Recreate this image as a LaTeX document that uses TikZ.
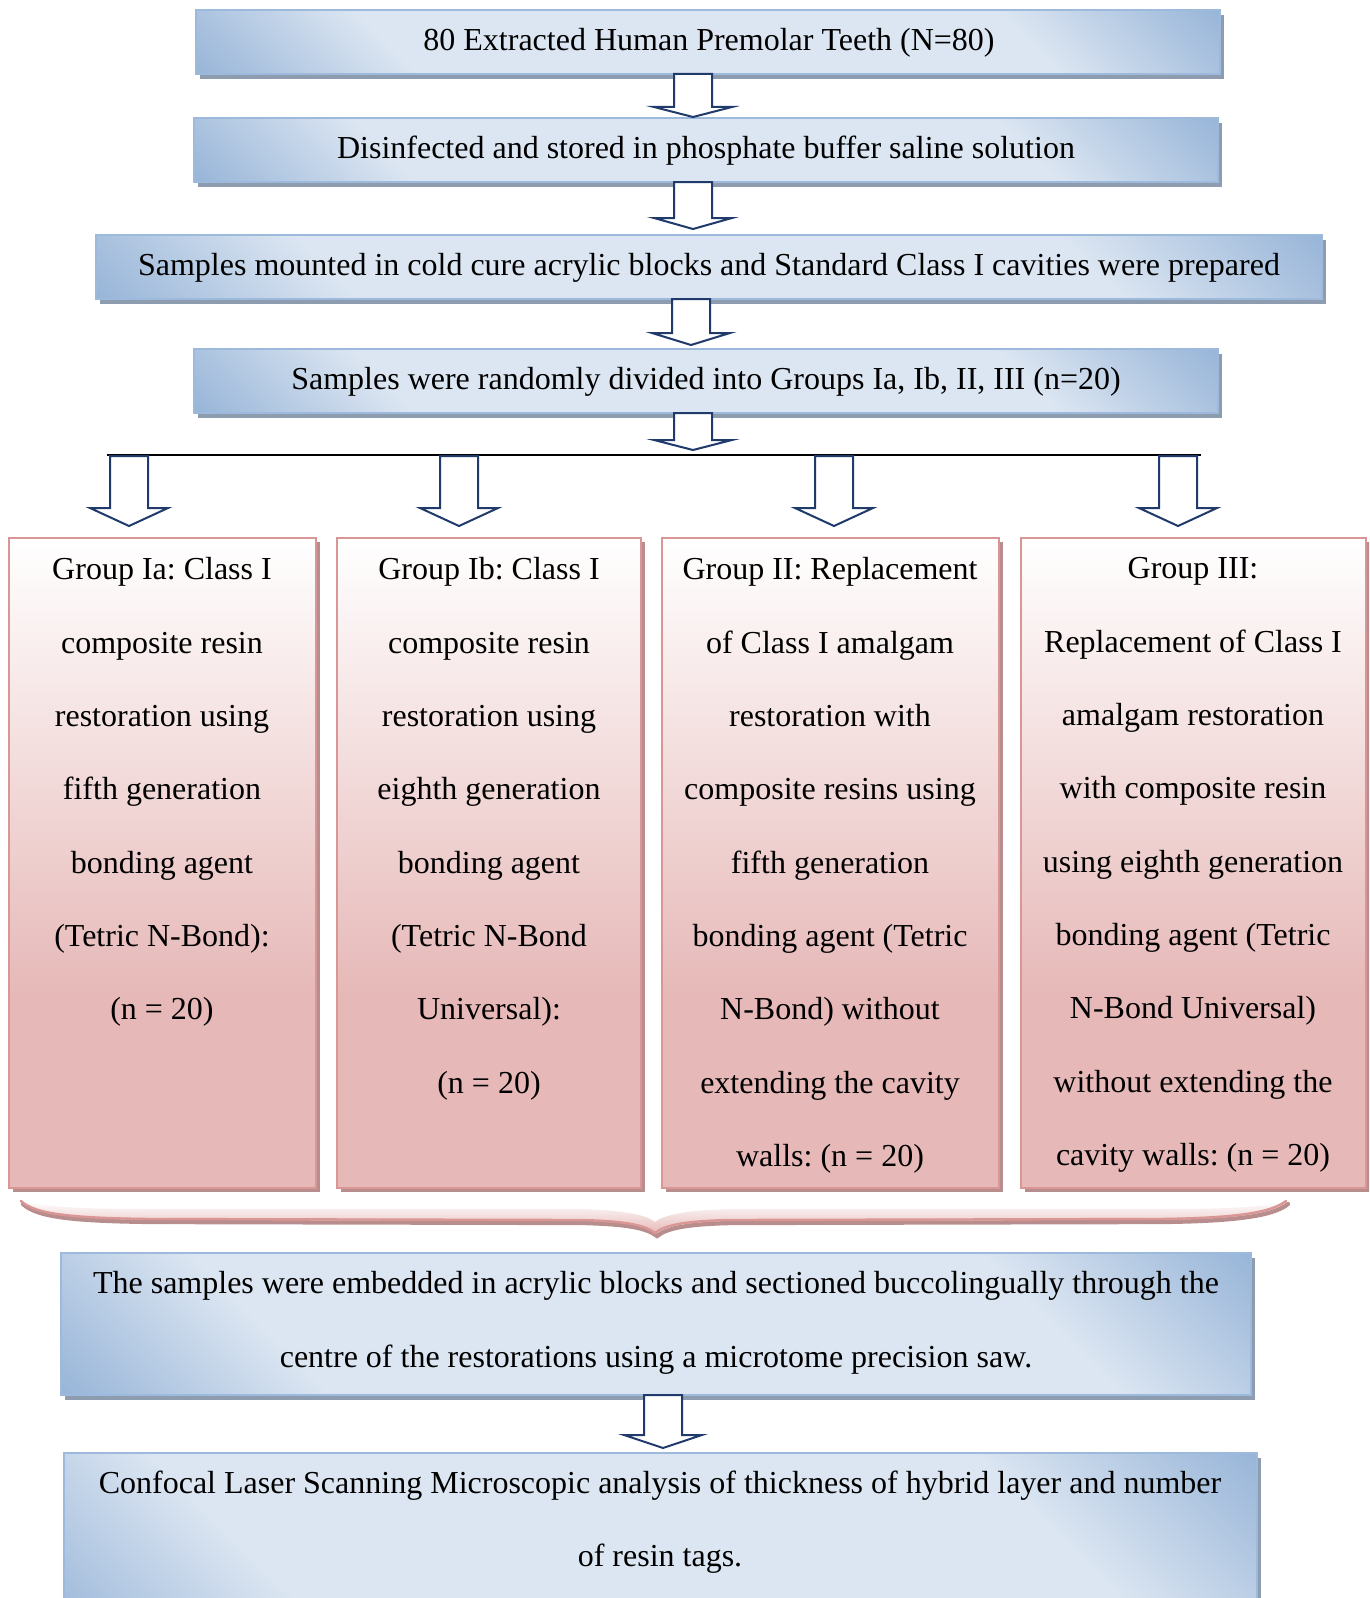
\documentclass[tikz,border=0pt]{standalone}
\usepackage{fontspec}
\setmainfont{Liberation Serif}
\usetikzlibrary{shadows,fit,calc}
\frenchspacing

\definecolor{bdark}{HTML}{95B3D7}
\definecolor{blight}{HTML}{DCE6F2}
\definecolor{bborder}{HTML}{9DBADD}
\definecolor{bshadow}{HTML}{8E9CB0}
\definecolor{navy}{HTML}{1F3A6B}
\definecolor{pinkb}{HTML}{D99694}
\definecolor{pinkf}{HTML}{E6B9B8}
\definecolor{pinks}{HTML}{B88D8D}

\pgfdeclareverticalshading{bluediag}{100bp}{color(0bp)=(bdark); color(14bp)=(bdark); color(29bp)=(blight); color(71bp)=(blight); color(86bp)=(bdark); color(100bp)=(bdark)}
\pgfdeclareverticalshading{pinkvert}{100bp}{color(0bp)=(pinkf); color(40bp)=(pinkf); color(75bp)=(white); color(100bp)=(white)}

\newcommand\blockarr[4]{% x, ytop, ybase, ytip
  \draw[barrow] (#1-19,#2) -- (#1+19,#2) -- (#1+19,#3) -- (#1+39,#3) -- (#1,#4) -- (#1-39,#3) -- (#1-19,#3) -- cycle;}

\begin{document}
\begin{tikzpicture}[x=0.375pt,y=-0.375pt,
  bluebox/.style={draw=bborder, line width=0.6pt, shade, shading=bluediag, shading angle=-45,
    drop shadow={shadow xshift=1.5pt, shadow yshift=-1.8pt, fill=bshadow, opacity=1}, inner sep=0pt},
  pinkbox/.style={draw=pinkb, line width=0.8pt, shade, shading=pinkvert,
    drop shadow={shadow xshift=1.5pt, shadow yshift=-1.6pt, fill=pinks, opacity=1}, inner sep=0pt},
  txt/.style={font=\fontsize{12}{27.5}\selectfont, align=center, inner sep=0pt},
  barrow/.style={draw=navy, line width=0.75pt, fill=white, line join=miter}]
\clip (0,0) rectangle (1369,1598);

% top boxes
\node[bluebox, fit={(196,10) (1220,74)}] (b1) {};
\node[bluebox, fit={(194,118) (1218,182)}] (b2) {};
\node[bluebox, fit={(96,235) (1322,299)}] (b3) {};
\node[bluebox, fit={(194,349) (1218,413)}] (b4) {};
\node[txt] (t1) at ($(b1.center)+(1,1)$) {80 Extracted Human Premolar Teeth (N=80)};
\node[txt] (t2) at ($(b2.center)+(0,1)$) {Disinfected and stored in phosphate buffer saline solution};
\node[txt] (t3) at ($(b3.center)+(0,1)$) {Samples mounted in cold cure acrylic blocks and Standard Class I cavities were prepared};
\node[txt] (t4) at ($(b4.center)+(0,1)$) {Samples were randomly divided into Groups Ia, Ib, II, III (n=20)};

% arrows between top boxes
\blockarr{693}{74}{107}{117}
\blockarr{693}{182}{218}{229}
\blockarr{691}{299}{333}{345}
\blockarr{693}{413}{440}{450}

% horizontal line
\coordinate (hl) at (107,455);
\coordinate (hr) at (1201,455);
\draw[line width=0.8pt] (hl) -- (hr);

% group arrows
\blockarr{129}{456}{508}{526}
\blockarr{459}{456}{508}{526}
\blockarr{834}{456}{508}{526}
\blockarr{1178}{456}{508}{526}

% group boxes
\node[pinkbox, fit={(9,538) (316,1188)}] (g1) {};
\node[pinkbox, fit={(337,538) (641,1188)}] (g2) {};
\node[pinkbox, fit={(662,538) (999,1188)}] (g3) {};
\node[pinkbox, fit={(1021,538) (1366,1188)}] (g4) {};

\node[txt, anchor=north] (gt1) at (162,557) {Group Ia: Class I\\composite resin\\restoration using\\fifth generation\\bonding agent\\(Tetric N-Bond):\\(n = 20)};
\node[txt, anchor=north] (gt2) at (489,557) {Group Ib: Class I\\composite resin\\restoration using\\eighth generation\\bonding agent\\(Tetric N-Bond\\Universal):\\(n = 20)};
\node[txt, anchor=north] (gt3) at (830,557) {Group II: Replacement\\of Class I amalgam\\restoration with\\composite resins using\\fifth generation\\bonding agent (Tetric\\N-Bond) without\\extending the cavity\\walls: (n = 20)};
\node[txt, anchor=north] (gt4) at (1193,557) {Group III:\\Replacement of Class I\\amalgam restoration\\with composite resin\\using eighth generation\\bonding agent (Tetric\\N-Bond Universal)\\without extending the\\cavity walls: (n = 20)};

% brace
\draw[pinks, line width=1.6pt, line cap=round]
  (23,1204) .. controls (37,1217) and (72,1221) .. (152,1222) -- (582,1223)
  .. controls (627,1224) and (647,1228) .. (657,1236)
  .. controls (667,1228) and (687,1224) .. (732,1223) -- (1162,1222)
  .. controls (1242,1221) and (1274,1215) .. (1288,1204);
\shade[top color=white, bottom color=pinkf, draw=none]
  (21,1201) .. controls (35,1214) and (70,1218) .. (150,1219) -- (580,1220)
  .. controls (625,1221) and (645,1225) .. (655,1233)
  .. controls (665,1225) and (685,1221) .. (730,1220) -- (1160,1219)
  .. controls (1240,1218) and (1272,1212) .. (1286,1201)
  .. controls (1265,1207) and (1230,1209) .. (1160,1209) -- (730,1209)
  .. controls (690,1210) and (665,1214) .. (655,1222)
  .. controls (645,1214) and (620,1210) .. (580,1209) -- (150,1209)
  .. controls (80,1209) and (45,1207) .. (21,1201) -- cycle;
\draw[pinkb, line width=0.9pt, line cap=round]
  (21,1201) .. controls (35,1214) and (70,1218) .. (150,1219) -- (580,1220)
  .. controls (625,1221) and (645,1225) .. (655,1233)
  .. controls (665,1225) and (685,1221) .. (730,1220) -- (1160,1219)
  .. controls (1240,1218) and (1272,1212) .. (1286,1201);

% bottom boxes
\node[bluebox, fit={(61,1253) (1251,1395)}] (b5) {};
\node[txt, anchor=north] (t5) at (656,1271) {The samples were embedded in acrylic blocks and sectioned buccolingually through the\\centre of the restorations using a microtome precision saw.};
\blockarr{663}{1395}{1435}{1448}
\node[bluebox, fit={(64,1453) (1257,1650)}] (b6) {};
\node[txt, anchor=north] (t6) at (660,1470) {Confocal Laser Scanning Microscopic analysis of thickness of hybrid layer and number\\of resin tags.};
\end{tikzpicture}
\end{document}
